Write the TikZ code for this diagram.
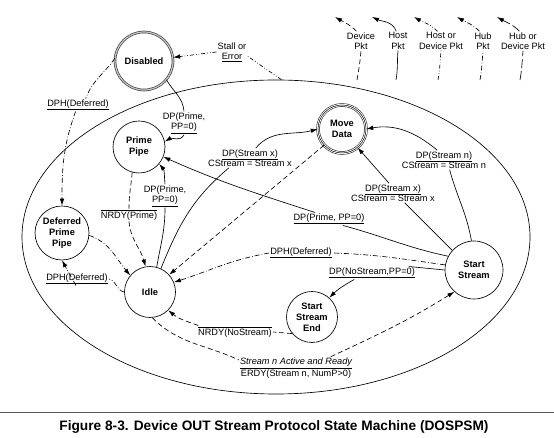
\documentclass[tikz,border=0pt]{standalone}
\usepackage{fontspec}
\setmainfont{Liberation Sans}
\usetikzlibrary{arrows.meta,shapes.geometric}
\newcommand{\pkul}[1]{\underline{#1}}
\newcommand{\pkol}[1]{$\overline{\mbox{#1}}$}

\begin{document}
\begin{tikzpicture}[x=1pt, y=1pt,
    state/.style={circle, draw, line width=0.65pt, inner sep=0pt, align=center,
                  font=\fontsize{9.3}{11}\selectfont\bfseries},
    lbl/.style={inner sep=1pt, align=center, font=\fontsize{9.2}{10.5}\selectfont},
    arr/.style={-{Latex[length=7pt,width=4.5pt]}},
    host/.style={line width=0.65pt},
    dev/.style={line width=0.65pt, dash pattern=on 5pt off 3pt},
    hostdev/.style={line width=0.65pt, dash pattern=on 4pt off 2pt on 0.7pt off 2pt on 0.7pt off 2pt},
    hub/.style={line width=0.65pt, dash pattern=on 5pt off 2pt on 0.7pt off 2pt},
    hubdev/.style={line width=0.65pt, dash pattern=on 9pt off 3pt}]
  \useasboundingbox (0,0) rectangle (554,438);
  % enclosing region of the active states
  \node[draw, ellipse, line width=0.65pt, minimum width=508, minimum height=314, inner sep=0pt] (region) at (276,201) {};

  % states
  \node[state, minimum size=58, draw=black!75, double=gray!45, double distance=1.2pt, line width=0.7pt] (dis) at (144,377) {Disabled};
  \node[state, minimum size=52] (prime) at (139,291) {Prime\\Pipe};
  \node[state, minimum size=48, line width=0.5pt, double, double distance=2.4pt] (move) at (342,309) {Move\\Data};
  \draw[line width=0.5pt] (move) circle (24);
  \node[state, minimum size=54] (dpp) at (62,205) {Deferred\\Prime\\Pipe};
  \node[state, minimum size=51] (idle) at (150,146) {Idle};
  \node[state, minimum size=58] (start) at (474,168) {Start\\Stream};
  \node[state, minimum size=51] (sse) at (312,121) {Start\\Stream\\End};

  % transition labels
  \node[lbl] (stall) at (232,386) {Stall or\\\pkul{Error}};
  \node[lbl] (dphd) at (78,333) {\pkul{DPH(Deferred)}};
  \node[lbl] (dpa) at (184,315) {DP(Prime,\\\pkul{PP=0)}};
  \node[lbl] (nrp) at (129,223) {\pkol{NRDY(Prime)}};
  \node[lbl] (dpb) at (165,242) {DP(Prime,\\\pkul{PP=0)}};
  \node[lbl] (dsx) at (250,280) {\pkul{DP(Stream x)}\\CStream = Stream x};
  \node[lbl] (dphi) at (77,159) {\pkul{DPH(Deferred)}};
  \node[lbl] (dsy) at (393,245) {\pkul{DP(Stream x)}\\CStream = Stream x};
  \node[lbl] (dsn) at (444,278) {\pkul{DP(Stream n)}\\CStream = Stream n};
  \node[lbl] (dpc) at (329,219) {\pkul{DP(Prime, PP=0)}};
  \node[lbl] (dphs) at (301,185) {\pkul{DPH(Deferred)}};
  \node[lbl] (dpns) at (372,165) {\pkul{DP(NoStream,PP=0)}};
  \node[lbl] (nrns) at (235,106) {\pkol{NRDY(NoStream)}};
  \node[lbl] (erdy) at (296,70) {\pkul{\itshape Stream n Active and Ready}\\ERDY(Stream n, NumP>0)};

  % transitions
  \draw[hostdev] (region.88) to[out=145,in=-35] (stall.-15);
  \draw[hostdev, arr] (stall.west) -- (dis);
  \draw[hub] (dis.175) to[out=235,in=70] (dphd.40);
  \draw[hub, arr] (dphd.-110) to[out=-110,in=90] (dpp.north);
  \draw[host] (dis.-40) to[out=-60,in=95] (dpa.north);
  \draw[host, arr] (dpa.south) to[out=-115,in=30] (prime.12);
  \draw[dev] (prime.-105) to[out=-95,in=90] (nrp.north);
  \draw[dev, arr] (nrp.south) to[out=-85,in=105] (idle.100);
  \draw[host] (idle.75) to[out=80,in=-90] (dpb.south);
  \draw[host, arr] (dpb.north) to[out=95,in=-50] (prime.-40);
  \draw[host] (idle.65) to[out=68,in=-140] (dsx.-155);
  \draw[host, arr] (dsx.60) to[out=50,in=195] (move.west);
  \draw[dev, arr] (move.-138) -- (idle.42);
  \draw[hub, arr] (dpp.-5) to[out=-20,in=130] (idle.140);
  \draw[hub] (idle.west) to[out=170,in=-10] (dphi.east);
  \draw[hub, arr] (dphi.-100) -- (dpp.south);
  \draw[host] (start.138) -- (dsy.-40);
  \draw[host, arr] (dsy.112) -- (move.-50);
  \draw[host] (start.95) to[out=100,in=-75] (dsn.-60);
  \draw[host, arr] (dsn.125) to[out=140,in=10] (move.east);
  \draw[host] (start.152) to[out=168,in=-15] (dpc.-25);
  \draw[host, arr] (dpc.155) to[out=162,in=-24] (prime.-22);
  \draw[hub] (start.170) to[out=172,in=-2] (dphs.east);
  \draw[hub, arr] (dphs.west) to[out=190,in=18] (idle.22);
  \draw[host] (start.180) -- (dpns.10);
  \draw[host, arr] (dpns.-160) to[out=-150,in=45] (sse.48);
  \draw[dev] (sse.-140) -- (nrns.east);
  \draw[dev, arr] (nrns.170) to[out=160,in=-40] (idle.-45);
  \draw[dev] (idle.-85) to[out=-45,in=155] (erdy.172);
  \draw[dev, arr] (erdy.18) to[out=25,in=-148] (start.-132);

  % legend of packet line styles
  \node[lbl] (lg1) at (361,397) {Device\\Pkt};
  \node[lbl] (lg2) at (398,397) {Host\\Pkt};
  \node[lbl] (lg3) at (441,397) {Host or\\Device Pkt};
  \node[lbl] (lg4) at (483,397) {Hub\\Pkt};
  \node[lbl] (lg5) at (523,397) {Hub or\\Device Pkt};
  \coordinate (lb1) at (357,358);
  \coordinate (lb2) at (396,358);
  \coordinate (lb3) at (438,358);
  \coordinate (lb4) at (480,358);
  \coordinate (lb5) at (520,358);
  \coordinate (tp1) at (335,421);
  \coordinate (tp2) at (372,421);
  \coordinate (tp3) at (414,421);
  \coordinate (tp4) at (457,421);
  \coordinate (tp5) at (497,421);
  \draw[dev] (lb1) to[out=80,in=-95] (lg1.south);
  \draw[dev, arr] (lg1.115) to[out=135,in=-30] (tp1);
  \draw[host] (lb2) to[out=80,in=-95] (lg2.south);
  \draw[host, arr] (lg2.100) to[out=110,in=-25] (tp2);
  \draw[hostdev] (lb3) to[out=80,in=-95] (lg3.south);
  \draw[hostdev, arr] (lg3.110) to[out=135,in=-30] (tp3);
  \draw[hub] (lb4) to[out=80,in=-95] (lg4.south);
  \draw[hub, arr] (lg4.110) to[out=135,in=-30] (tp4);
  \draw[hubdev] (lb5) to[out=80,in=-95] (lg5.south);
  \draw[hubdev, arr] (lg5.110) to[out=135,in=-30] (tp5);

  % caption
  \draw[line width=0.8pt, black!65] (0,26) -- (554,26);
  \node[font=\fontsize{13.7}{15}\selectfont\bfseries] (caption) at (274,11) {Figure 8-3. Device OUT Stream Protocol State Machine (DOSPSM)};
\end{tikzpicture}
\end{document}
